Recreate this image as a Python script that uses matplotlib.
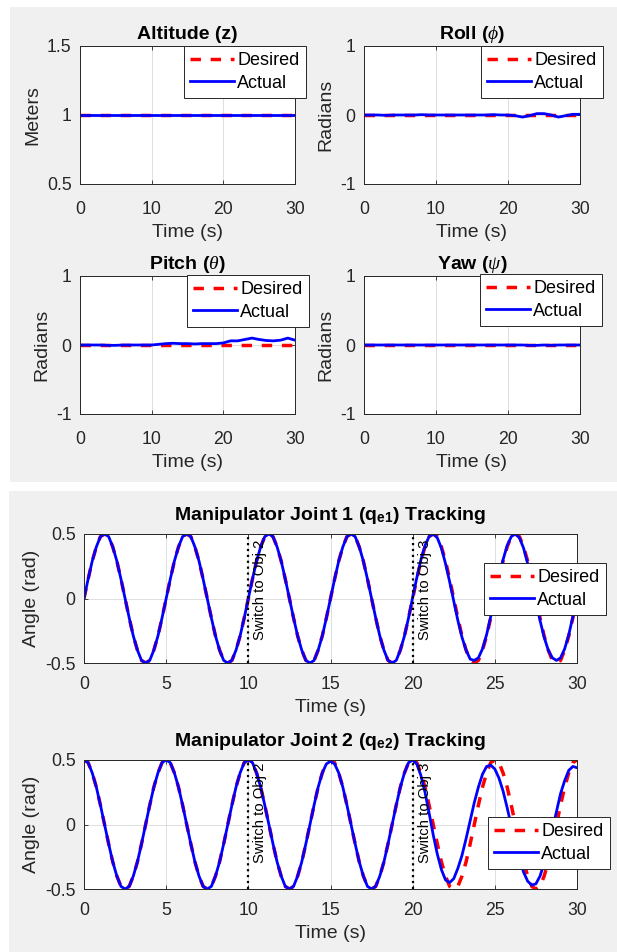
import numpy as np
import matplotlib
matplotlib.use('Agg')
import matplotlib.pyplot as plt
from matplotlib.patches import Rectangle
from matplotlib.ticker import FuncFormatter

plt.rcParams['font.family'] = 'Liberation Sans'
plt.rcParams['mathtext.fontset'] = 'custom'
plt.rcParams['mathtext.rm'] = 'Liberation Sans'
plt.rcParams['mathtext.bf'] = 'Liberation Sans:bold'
plt.rcParams['mathtext.it'] = 'Liberation Serif:italic'
plt.rcParams['axes.unicode_minus'] = False

att_time = list(range(31))
alt_desired = [1.0] * 31
alt_actual = [1.0] * 31
roll_desired = [0.0] * 31
roll_actual = [0.0, 0.0, 0.0, -0.005, 0.0, 0.0, 0.0, 0.0, 0.005, 0.0,
               0.0, 0.0, 0.0, 0.0, 0.0, 0.0, 0.0, 0.0, 0.005, 0.0,
               0.0, -0.01, -0.03, -0.01, 0.02, 0.02, 0.0, -0.03, -0.01, 0.01, 0.01]
pitch_desired = [0.0] * 31
pitch_actual = [0.0, 0.0, 0.0, 0.0, -0.005, -0.005, 0.0, 0.0, 0.0, 0.0,
                0.0, 0.01, 0.02, 0.025, 0.02, 0.02, 0.015, 0.02, 0.02, 0.02,
                0.03, 0.06, 0.06, 0.08, 0.10, 0.08, 0.065, 0.06, 0.07, 0.10, 0.07]
yaw_desired = [0.0] * 31
yaw_actual = [0.0, 0.0, 0.0, 0.0, 0.0, 0.0, 0.0, 0.0, 0.0, 0.0,
              0.0, 0.0, 0.0, 0.0, 0.0, 0.0, 0.0, 0.0, 0.0, 0.0,
              0.0, 0.0, 0.0, -0.005, -0.005, 0.0, -0.005, 0.0, 0.0, 0.0, 0.0]

# ---- manipulator joints, sampled every 0.25 s (one row = 5 s) ----
joint_time = np.arange(0, 30.01, 0.25)
q1_desired = [
    0.00, 0.15, 0.29, 0.40, 0.48, 0.50, 0.48, 0.40, 0.29, 0.15, 0.00, -0.15, -0.29, -0.40, -0.48, -0.50, -0.48, -0.40, -0.29, -0.15,
    0.00, 0.15, 0.29, 0.40, 0.48, 0.50, 0.48, 0.40, 0.29, 0.15, 0.00, -0.15, -0.29, -0.40, -0.48, -0.50, -0.48, -0.40, -0.29, -0.15,
    0.00, 0.15, 0.29, 0.40, 0.48, 0.50, 0.48, 0.40, 0.29, 0.15, 0.00, -0.15, -0.29, -0.40, -0.48, -0.50, -0.48, -0.40, -0.29, -0.15,
    0.00, 0.15, 0.29, 0.40, 0.48, 0.50, 0.48, 0.40, 0.29, 0.15, 0.00, -0.15, -0.29, -0.40, -0.48, -0.50, -0.48, -0.40, -0.29, -0.15,
    0.00, 0.15, 0.29, 0.40, 0.48, 0.50, 0.48, 0.40, 0.29, 0.15, 0.00, -0.15, -0.29, -0.40, -0.48, -0.50, -0.48, -0.40, -0.29, -0.15,
    0.00, 0.15, 0.29, 0.40, 0.48, 0.50, 0.48, 0.40, 0.29, 0.15, 0.00, -0.15, -0.29, -0.40, -0.48, -0.50, -0.48, -0.40, -0.29, -0.15,
    0.00]
q1_actual = [
    0.00, 0.15, 0.29, 0.40, 0.48, 0.50, 0.48, 0.40, 0.29, 0.15, 0.00, -0.15, -0.29, -0.40, -0.48, -0.50, -0.48, -0.40, -0.29, -0.15,
    0.00, 0.15, 0.29, 0.40, 0.48, 0.50, 0.48, 0.40, 0.29, 0.15, 0.00, -0.15, -0.29, -0.40, -0.48, -0.50, -0.48, -0.40, -0.29, -0.15,
    0.00, 0.15, 0.29, 0.40, 0.48, 0.50, 0.48, 0.40, 0.29, 0.15, 0.00, -0.15, -0.29, -0.40, -0.48, -0.50, -0.48, -0.40, -0.29, -0.15,
    0.00, 0.15, 0.29, 0.40, 0.48, 0.50, 0.48, 0.40, 0.29, 0.15, 0.00, -0.15, -0.29, -0.40, -0.48, -0.50, -0.48, -0.40, -0.29, -0.15,
    0.01, 0.16, 0.30, 0.41, 0.48, 0.50, 0.47, 0.39, 0.27, 0.13, -0.02, -0.17, -0.30, -0.40, -0.47, -0.48, -0.46, -0.39, -0.28, -0.14,
    0.01, 0.16, 0.30, 0.41, 0.48, 0.50, 0.47, 0.39, 0.27, 0.13, -0.02, -0.17, -0.30, -0.40, -0.46, -0.48, -0.46, -0.39, -0.28, -0.14,
    0.01]
q2_desired = [
    0.50, 0.48, 0.40, 0.29, 0.15, 0.00, -0.15, -0.29, -0.40, -0.48, -0.50, -0.48, -0.40, -0.29, -0.15, 0.00, 0.15, 0.29, 0.40, 0.48,
    0.50, 0.48, 0.40, 0.29, 0.15, 0.00, -0.15, -0.29, -0.40, -0.48, -0.50, -0.48, -0.40, -0.29, -0.15, 0.00, 0.15, 0.29, 0.40, 0.48,
    0.50, 0.48, 0.40, 0.29, 0.15, 0.00, -0.15, -0.29, -0.40, -0.48, -0.50, -0.48, -0.40, -0.29, -0.15, 0.00, 0.15, 0.29, 0.40, 0.48,
    0.50, 0.48, 0.40, 0.29, 0.15, 0.00, -0.15, -0.29, -0.40, -0.48, -0.50, -0.48, -0.40, -0.29, -0.15, 0.00, 0.15, 0.29, 0.40, 0.48,
    0.50, 0.48, 0.40, 0.29, 0.15, 0.00, -0.15, -0.29, -0.40, -0.48, -0.50, -0.48, -0.40, -0.29, -0.15, 0.00, 0.15, 0.29, 0.40, 0.48,
    0.50, 0.48, 0.40, 0.29, 0.15, 0.00, -0.15, -0.29, -0.40, -0.48, -0.50, -0.48, -0.40, -0.29, -0.15, 0.00, 0.15, 0.29, 0.40, 0.48,
    0.50]
q2_actual = [
    0.50, 0.48, 0.40, 0.29, 0.15, 0.00, -0.15, -0.29, -0.40, -0.48, -0.50, -0.48, -0.40, -0.29, -0.15, 0.00, 0.15, 0.29, 0.40, 0.48,
    0.50, 0.48, 0.40, 0.29, 0.15, 0.00, -0.15, -0.29, -0.40, -0.48, -0.50, -0.48, -0.40, -0.29, -0.15, 0.00, 0.15, 0.29, 0.40, 0.48,
    0.50, 0.48, 0.40, 0.29, 0.15, 0.00, -0.15, -0.29, -0.40, -0.48, -0.50, -0.48, -0.40, -0.29, -0.15, 0.00, 0.15, 0.29, 0.40, 0.47,
    0.49, 0.47, 0.40, 0.29, 0.15, 0.00, -0.15, -0.29, -0.40, -0.48, -0.50, -0.48, -0.40, -0.29, -0.15, 0.00, 0.15, 0.29, 0.40, 0.48,
    0.50, 0.47, 0.38, 0.25, 0.09, -0.08, -0.23, -0.35, -0.43, -0.45, -0.42, -0.34, -0.24, -0.11, 0.03, 0.17, 0.29, 0.39, 0.45, 0.46,
    0.43, 0.36, 0.26, 0.13, -0.01, -0.14, -0.27, -0.37, -0.44, -0.47, -0.46, -0.40, -0.30, -0.18, -0.04, 0.10, 0.24, 0.34, 0.42, 0.45,
    0.44]
switch_times = [10, 20]
switch_labels = ['Switch to Obj 2', 'Switch to Obj 3']

W, H = 617, 952
TXT = '#262626'
fig = plt.figure(figsize=(W / 100, H / 100), dpi=100, facecolor='white')

# grey figure panels (two MATLAB windows stacked)
fig.patches.append(Rectangle((10 / W, 470 / H), 607 / W, 475 / H, transform=fig.transFigure,
                             facecolor='#f0f0f0', edgecolor='none', zorder=-10))
fig.patches.append(Rectangle((9 / W, 0), 608 / W, 461 / H, transform=fig.transFigure,
                             facecolor='#f0f0f0', edgecolor='none', zorder=-10))


def px_axes(l, t, r, b):
    return fig.add_axes([l / W, 1 - b / H, (r - l) / W, (b - t) / H])


def style(ax, title, ylabel, xticks, yticks, ylim, tpad, xpad):
    ax.set_facecolor('white')
    ax.set_xlim(0, 30)
    ax.set_ylim(*ylim)
    ax.set_xticks(xticks)
    ax.set_yticks(yticks)
    ax.yaxis.set_major_formatter(FuncFormatter(lambda v, p: '%g' % v))
    ax.grid(True, color='#dfdfdf', linewidth=0.7)
    ax.set_axisbelow(True)
    for s in ax.spines.values():
        s.set_color(TXT)
        s.set_linewidth(0.7)
    ax.tick_params(direction='in', length=3, width=0.6, colors=TXT, labelsize=12.7,
                   top=True, right=True, pad=6)
    ax.tick_params(axis='x', pad=xpad)
    ax.set_title(title, fontsize=14, fontweight='bold', color='black', pad=tpad)
    ax.set_xlabel('Time (s)', fontsize=14, color=TXT, labelpad=4.5)
    ax.set_ylabel(ylabel, fontsize=14, color=TXT, labelpad=4)


def add_legend(ax, right, top):
    leg = ax.legend(loc='upper right', bbox_to_anchor=(right / W, 1 - top / H),
                    bbox_transform=fig.transFigure, fontsize=13, fancybox=False,
                    framealpha=1, edgecolor=TXT, borderpad=0.35, labelspacing=0.3,
                    handlelength=2.4, handletextpad=0.2, borderaxespad=0)
    leg.get_frame().set_linewidth(0.7)


dash = (0, (3.0, 2.8))

top_panels = [
    ((80, 46, 295, 184), 'Altitude (z)', 'Meters', alt_desired, alt_actual, (0.5, 1.5), [0.5, 1, 1.5], (306, 46)),
    ((364, 46, 580, 184), r'Roll ($\phi$)', 'Radians', roll_desired, roll_actual, (-1, 1), [-1, 0, 1], (603, 46)),
    ((80, 276, 295, 414), r'Pitch ($\theta$)', 'Radians', pitch_desired, pitch_actual, (-1, 1), [-1, 0, 1], (309, 275)),
    ((364, 276, 580, 414), r'Yaw ($\psi$)', 'Radians', yaw_desired, yaw_actual, (-1, 1), [-1, 0, 1], (602, 274)),
]
for box, title, ylab, des, act, ylim, yt, lpos in top_panels:
    ax = px_axes(*box)
    ax.plot(att_time, des, color='red', linestyle=dash, linewidth=2.5, label='Desired')
    ax.plot(att_time, act, color='blue', linewidth=2, label='Actual')
    style(ax, title, ylab, [0, 10, 20, 30], yt, ylim, 5, 12)
    add_legend(ax, *lpos)

joint_panels = [
    ((84, 534, 577, 663), r'Manipulator Joint 1 (q$_{\mathbf{e1}}$) Tracking', q1_desired, q1_actual, (606, 563), 0.46),
    ((84, 760, 577, 889), r'Manipulator Joint 2 (q$_{\mathbf{e2}}$) Tracking', q2_desired, q2_actual, (610, 817), 0.48),
]
for box, title, des, act, lpos, ty in joint_panels:
    ax = px_axes(*box)
    ax.plot(joint_time, des, color='red', linestyle=dash, linewidth=2.5, label='Desired')
    ax.plot(joint_time, act, color='blue', linewidth=2, label='Actual')
    for xs, lab in zip(switch_times, switch_labels):
        ax.axvline(xs, color='black', linestyle=':', linewidth=1.6)
        ax.text(xs + 0.3, ty, lab, rotation=90, ha='left', va='top', fontsize=10.7, color='black')
    style(ax, title, 'Angle (rad)', [0, 5, 10, 15, 20, 25, 30], [-0.5, 0, 0.5], (-0.5, 0.5), 10, 9.5)
    add_legend(ax, *lpos)

fig.savefig('out.png', dpi=100, facecolor='white')
